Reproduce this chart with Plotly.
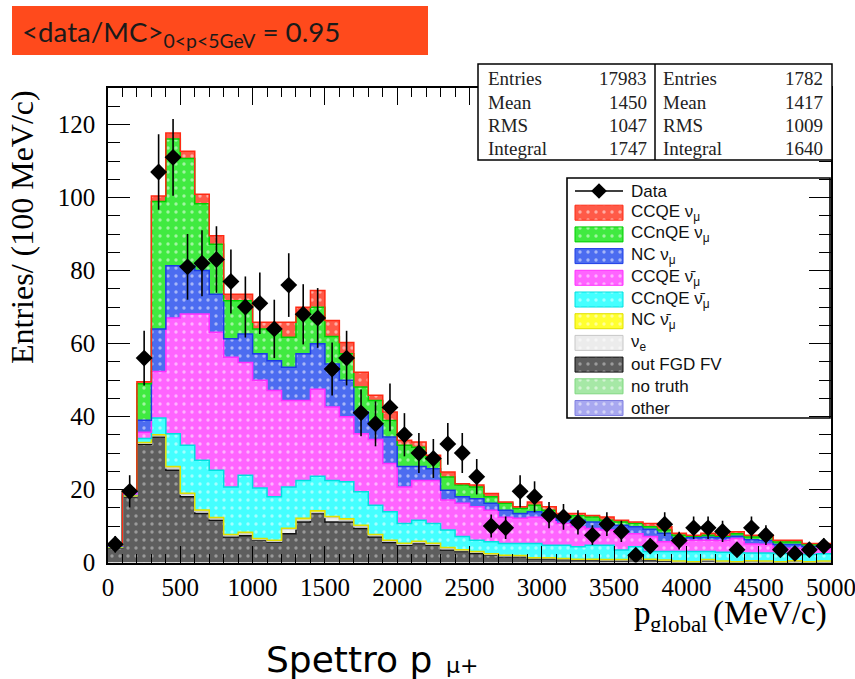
import numpy as np
import plotly.graph_objects as go

FIG_W, FIG_H = 855, 679

# 100 MeV/c bins from 0 to 5000 MeV/c
bin_edges = np.arange(0, 5001, 100)
bin_centers = bin_edges[:-1] + 50

# Data (entries per bin)
data_counts = [5, 19.5, 56, 107, 111, 81, 82, 83, 77, 70,
               71, 64, 76, 68, 67, 53, 56, 41, 38, 42.5,
               35, 30, 28.5, 32.5, 30, 23.5, 10, 9.5, 19.5, 18,
               13, 12.5, 11, 7.5, 10.5, 8.5, 2, 4.5, 10.5, 6,
               9.5, 9.5, 8.5, 3.5, 9.5, 7.5, 3.5, 2.5, 3.5, 4.5]

# MC components, per bin
out_fgd_fv = [4.0, 18.0, 32.4, 34.4, 25.3, 18.0, 13.4, 11.6, 7.0, 7.3,
              6.1, 5.6, 7.9, 11.1, 13.4, 11.1, 11.1, 9.3, 7.0, 5.5,
              4.7, 5.2, 4.7, 3.4, 3.0, 2.5, 2.0, 1.6, 1.6, 1.0,
              1.0, 0.8, 0.6, 0.6, 0.5, 0.5, 1.5, 0.6, 0.5, 0.2,
              0.0, 0.6, 0.2, 0.0, 0.3, 0.2, 0.0, 0.3, 0.0, 0.2]
nu_e = [0.1, 0.2, 0.3, 0.3, 0.6, 0.6, 0.6, 0.4, 0.3, 0.5,
        0.2, 0.2, 1.3, 0.5, 0.3, 1.2, 0.4, 0.5, 0.4, 0.3,
        0.3, 0.3, 0.3, 0.4, 0.3, 0.3, 0.2, 0.2, 0.2, 0.2,
        0.2, 0.2, 0.2, 0.2, 0.2, 0.2, 0.2, 0.2, 0.1, 0.1,
        0.1, 0.1, 0.1, 0.1, 0.1, 0.1, 0.1, 0.1, 0.1, 0.1]
nc_antinumu = [0.1, 0.1, 0.2, 0.3, 0.4, 0.4, 0.4, 0.3, 0.4, 0.5,
               0.3, 0.3, 0.2, 0.5, 0.5, 0.3, 0.5, 0.4, 0.3, 0.3,
               0.3, 0.3, 0.3, 0.3, 0.2, 0.2, 0.2, 0.2, 0.1, 0.1,
               0.1, 0.1, 0.1, 0.1, 0.1, 0.1, 0.1, 0.1, 0.1, 0.1,
               0.1, 0.1, 0.1, 0.1, 0.1, 0.1, 0.1, 0.1, 0.1, 0.1]
ccnqe_antinumu = [0.2, 0.3, 1.1, 4.6, 9.0, 13.1, 13.6, 13.0, 13.0, 15.6,
                  13.8, 11.9, 11.3, 10.4, 9.4, 9.9, 10.1, 9.2, 8.0, 7.8,
                  5.4, 5.8, 5.4, 4.8, 3.6, 3.1, 3.3, 3.2, 3.3, 3.9,
                  3.4, 3.6, 3.4, 3.8, 3.9, 2.6, 2.5, 2.1, 2.3, 2.6,
                  2.8, 2.2, 2.4, 2.5, 2.1, 2.2, 2.3, 2.0, 2.0, 2.0]
ccqe_antinumu = [0.1, 0.2, 1.7, 12.7, 31.7, 36.0, 40.1, 37.8, 35.5, 30.9,
                 29.5, 29.1, 23.7, 21.9, 23.9, 20.1, 17.8, 15.9, 18.0, 13.2,
                 10.0, 10.9, 11.8, 8.2, 9.1, 9.2, 8.6, 7.2, 6.9, 7.2,
                 7.4, 6.0, 5.5, 4.6, 4.2, 4.5, 3.6, 4.1, 2.7, 2.2,
                 3.1, 3.1, 3.2, 3.9, 2.5, 2.4, 1.4, 1.4, 1.4, 1.4]
nc_numu = [0.1, 0.6, 3.3, 11.7, 14.3, 13.2, 11.9, 10.4, 5.1, 7.8,
           7.3, 8.2, 9.1, 12.8, 12.4, 11.8, 10.0, 5.9, 4.3, 7.3,
           5.6, 3.8, 3.2, 2.7, 1.8, 2.2, 1.9, 1.9, 1.3, 1.5,
           1.3, 0.9, 1.8, 1.8, 1.8, 2.3, 1.9, 2.0, 2.3, 1.4,
           0.7, 0.8, 0.8, 0.6, 1.1, 1.0, 1.0, 1.0, 0.8, 0.7]
ccnqe_numu = [0.1, 0.2, 10.0, 34.9, 34.7, 29.4, 18.3, 13.7, 10.4, 9.1,
              6.8, 8.2, 8.2, 10.9, 10.0, 7.5, 7.3, 6.9, 6.4, 4.5,
              5.8, 5.3, 2.5, 3.6, 3.2, 3.2, 1.8, 1.9, 1.4, 1.8,
              0.9, 0.9, 1.2, 1.4, 0.9, 0.9, 0.9, 0.7, 0.9, 0.9,
              0.4, 0.6, 0.4, 0.7, 0.8, 0.9, 0.7, 0.7, 0.5, 0.5]
ccqe_numu = [0.1, 0.2, 0.5, 1.5, 1.7, 2.0, 2.6, 2.3, 1.8, 1.8,
             1.8, 2.3, 4.1, 1.8, 4.6, 4.4, 3.1, 4.0, 1.4, 2.3,
             1.4, 1.4, 1.2, 1.4, 0.4, 0.5, 0.9, 0.4, 0.5, 0.9,
             1.0, 0.9, 0.6, 0.4, 0.9, 0.5, 0.4, 0.9, 0.9, 0.5,
             0.3, 0.5, 0.3, 0.5, 0.5, 0.6, 0.5, 0.5, 0.3, 0.2]

NUBAR = "\u03bd\u0304"
# stack order, bottom to top: label, values, fill, outline, dot colour
stack = [
    ("out FGD FV", out_fgd_fv, "#5e5e5e", "#111111", "#d8d8d8"),
    ("\u03bd<sub>e</sub>", nu_e, "#ececec", "#c8c8c8", "#ffffff"),
    ("NC " + NUBAR + "<sub>\u03bc</sub>", nc_antinumu, "#ffff30", "#e0e000", "#ffffff"),
    ("CCnQE " + NUBAR + "<sub>\u03bc</sub>", ccnqe_antinumu, "#44ffff", "#00e0e0", "#ffffff"),
    ("CCQE " + NUBAR + "<sub>\u03bc</sub>", ccqe_antinumu, "#ff64ff", "#ff30ff", "#ffffff"),
    ("NC \u03bd<sub>\u03bc</sub>", nc_numu, "#4c6cf0", "#1c3ce6", "#ffffff"),
    ("CCnQE \u03bd<sub>\u03bc</sub>", ccnqe_numu, "#40ea40", "#00d000", "#ffffff"),
    ("CCQE \u03bd<sub>\u03bc</sub>", ccqe_numu, "#ff5a48", "#ff2a14", "#ffffff"),
]
empty_entries = [("no truth", "#a6e8a6", "#80d880"), ("other", "#a8a8f0", "#8080e0")]

stats_mc = [("Entries", "17983"), ("Mean", "1450"), ("RMS", "1047"), ("Integral", "1747")]
stats_data = [("Entries", "1782"), ("Mean", "1417"), ("RMS", "1009"), ("Integral", "1640")]


def px(x):
    return x / FIG_W


def py(y):
    return 1 - y / FIG_H


def overlay_text(x, y, text, family, size, position="middle right"):
    """Text placed in pixel coordinates on the overlay axes."""
    return go.Scatter(x=[x], y=[y], mode="text", text=[text], textposition=position,
                      textfont=dict(family=family, size=size, color="black"),
                      cliponaxis=False,
                      xaxis="x2", yaxis="y2", showlegend=False, hoverinfo="skip")


fig = go.Figure()

# stacked step histograms
cumulative = np.cumsum(np.array([s[1] for s in stack]), axis=0)
for i, (name, vals, fill, line, dot) in enumerate(stack):
    top = cumulative[i]
    fig.add_trace(go.Scatter(
        x=bin_edges, y=np.append(top, top[-1]),
        mode="lines", line=dict(shape="hv", color=line, width=1.5),
        fill="tozeroy" if i == 0 else "tonexty", fillcolor=fill,
        fillpattern=dict(shape=".", bgcolor=fill, fgcolor=dot, size=8, solidity=0.14,
                         fillmode="overlay"),
        showlegend=False, hoverinfo="skip",
    ))

# data points with Poisson errors
fig.add_trace(go.Scatter(
    x=bin_centers, y=data_counts, mode="markers",
    marker=dict(symbol="diamond", size=13, color="black"),
    error_y=dict(type="data", array=np.sqrt(data_counts), width=0, thickness=1.6, color="black"),
    showlegend=False, hoverinfo="skip",
))

# ---- legend (drawn on a pixel-coordinate overlay) ----
LEG_X0, LEG_X1, LEG_TOP, LEG_BOT = 567, 830, 178, 418
row0, row_step = 191, 21.7
sw_x0, sw_x1, sw_h = 575, 623, 15
legend_rows = [(s[0], s[2], s[3], s[4]) for s in reversed(stack)] + \
              [(n, f, l, "#ffffff") for n, f, l in empty_entries]
legend_font = dict(family="Liberation Sans, DejaVu Sans", size=17, color="#111")

annotations = []
shapes = []

# Data entry
fig.add_trace(go.Scatter(x=[sw_x0, sw_x1], y=[row0, row0], mode="lines",
                         line=dict(color="black", width=1.5), xaxis="x2", yaxis="y2",
                         showlegend=False, hoverinfo="skip"))
fig.add_trace(go.Scatter(x=[(sw_x0 + sw_x1) / 2], y=[row0], mode="markers",
                         marker=dict(symbol="diamond", size=12, color="black"),
                         xaxis="x2", yaxis="y2", showlegend=False, hoverinfo="skip"))
annotations.append(dict(x=px(629), y=py(row0), xref="paper", yref="paper", text="Data",
                        xanchor="left", yanchor="middle", showarrow=False, font=legend_font))
for k, (name, fill, line, dot) in enumerate(legend_rows, start=1):
    yc = row0 + k * row_step
    fig.add_trace(go.Scatter(
        x=[sw_x0, sw_x1, sw_x1, sw_x0, sw_x0],
        y=[yc - sw_h / 2, yc - sw_h / 2, yc + sw_h / 2, yc + sw_h / 2, yc - sw_h / 2],
        mode="lines", fill="toself", fillcolor=fill, line=dict(color=line, width=1),
        fillpattern=dict(shape=".", bgcolor=fill, fgcolor=dot, size=8, solidity=0.14,
                         fillmode="overlay"),
        xaxis="x2", yaxis="y2", showlegend=False, hoverinfo="skip"))
    annotations.append(dict(x=px(629), y=py(yc), xref="paper", yref="paper", text=name,
                            xanchor="left", yanchor="middle", showarrow=False,
                            font=legend_font))
shapes.append(dict(type="rect", xref="paper", yref="paper", layer="below",
                   x0=px(LEG_X0), x1=px(LEG_X1), y0=py(LEG_BOT), y1=py(LEG_TOP),
                   fillcolor="white", line=dict(color="black", width=1.6)))

# ---- statistics boxes ----
ST_X0, ST_MID, ST_X1, ST_TOP, ST_BOT = 478, 655, 832, 64, 160
shapes.append(dict(type="rect", xref="paper", yref="paper", layer="above",
                   x0=px(ST_X0), x1=px(ST_X1), y0=py(ST_BOT), y1=py(ST_TOP),
                   fillcolor="white", line=dict(color="black", width=1.5)))
shapes.append(dict(type="line", xref="paper", yref="paper", layer="above",
                   x0=px(ST_MID), x1=px(ST_MID), y0=py(ST_BOT), y1=py(ST_TOP),
                   line=dict(color="black", width=1.5)))
stat_font = dict(family="Liberation Serif", size=19, color="#222")
row_y = [78, 102, 125, 148]
for (lab, val), (lab2, val2), yy in zip(stats_mc, stats_data, row_y):
    for xx, txt, anchor in ((486, lab, "left"), (649, val, "right"),
                            (661, lab2, "left"), (825, val2, "right")):
        annotations.append(dict(x=px(xx), y=py(yy), text=txt, xanchor=anchor,
                                xref="paper", yref="paper", yanchor="middle",
                                showarrow=False, font=stat_font))

# ---- data/MC banner ----
shapes.append(dict(type="rect", xref="paper", yref="paper", layer="above",
                   x0=px(12), x1=px(428), y0=py(55), y1=py(6),
                   fillcolor="#ff4a1c", line=dict(width=0)))
annotations.append(dict(x=px(20), y=py(33), xref="paper", yref="paper",
                        text="&lt;data/MC&gt;<sub>0&lt;p&lt;5GeV</sub> = 0.95",
                        xanchor="left", yanchor="middle", showarrow=False,
                        font=dict(family="Lato", size=27.7, color="#1a1a1a")))

# ---- axis titles ----
annotations.append(dict(x=px(22), y=py(88), xref="paper", yref="paper",
                        text="Entries/ (100 MeV/c)", textangle=-90,
                        xanchor="center", yanchor="top", showarrow=False,
                        font=dict(family="Liberation Serif", size=32, color="black")))
fig.add_trace(overlay_text(634, 616, "p", "Liberation Serif", 33))
fig.add_trace(overlay_text(650, 626, "global", "Liberation Serif", 23))
fig.add_trace(overlay_text(713, 616, "(MeV/c)", "Liberation Serif", 33))
# caption under the figure
fig.add_trace(overlay_text(266, 663, "Spettro p", "DejaVu Sans", 36))
fig.add_trace(overlay_text(446, 667, "\u03bc+", "DejaVu Sans", 22))
# the figure frame ends here; text beyond it is cut
shapes.append(dict(type="rect", xref="paper", yref="paper", layer="above",
                   x0=0, x1=1, y0=py(644), y1=py(632), fillcolor="white", line=dict(width=0)))

tick_font = dict(family="Liberation Serif", size=25, color="black")
fig.update_layout(
    width=FIG_W, height=FIG_H,
    margin=dict(l=0, r=0, t=0, b=0, autoexpand=False),
    paper_bgcolor="white", plot_bgcolor="rgba(0,0,0,0)",
    showlegend=False,
    xaxis=dict(domain=[px(108), px(831)], range=[0, 5000], anchor="y",
               tick0=0, dtick=500, ticks="inside", ticklen=17, tickwidth=1.3,
               tickcolor="black",
               minor=dict(dtick=100, ticks="inside", ticklen=9, tickwidth=1.1,
                          tickcolor="black"),
               showline=True, linecolor="black", linewidth=1.5, mirror="ticks",
               showgrid=False, zeroline=False, tickfont=tick_font, automargin=False,
               ticklabelstandoff=2, ticklabeloverflow="allow"),
    yaxis=dict(domain=[py(562.5), py(88)], range=[0, 130], anchor="x",
               tick0=0, dtick=20, ticks="inside", ticklen=22, tickwidth=1.3,
               tickcolor="black",
               minor=dict(dtick=5, ticks="inside", ticklen=12, tickwidth=1.1,
                          tickcolor="black"),
               showline=True, linecolor="black", linewidth=1.5, mirror="ticks",
               showgrid=False, zeroline=False, tickfont=tick_font, automargin=False,
               ticklabelstandoff=6, ticklabeloverflow="allow"),
    xaxis2=dict(domain=[0, 1], range=[0, FIG_W], anchor="y2", visible=False,
                fixedrange=True, automargin=False),
    yaxis2=dict(domain=[0, 1], range=[FIG_H, 0], anchor="x2", visible=False,
                fixedrange=True, automargin=False),
    shapes=shapes,
    annotations=annotations,
)

fig.write_html("out.html")
